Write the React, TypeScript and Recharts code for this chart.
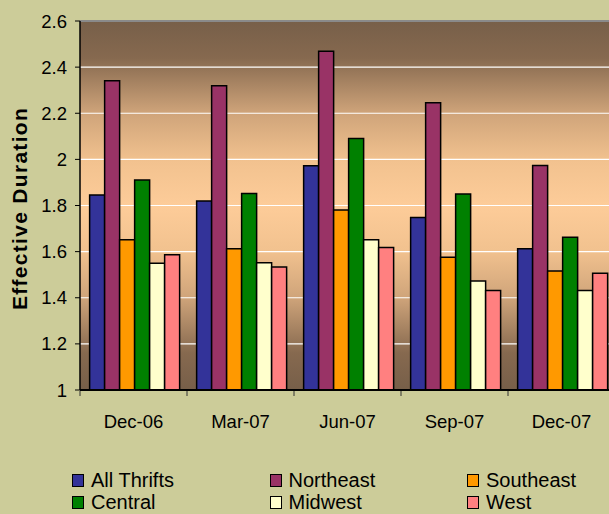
import { Bar, BarChart, CartesianGrid, Legend, ReferenceLine, XAxis, YAxis } from 'recharts';

const quarters = ['Dec-06', 'Mar-07', 'Jun-07', 'Sep-07', 'Dec-07'];
const allThrifts = [1.845, 1.819, 1.972, 1.748, 1.612];
const northeast = [2.341, 2.319, 2.469, 2.246, 1.973];
const southeast = [1.652, 1.612, 1.781, 1.576, 1.516];
const central = [1.911, 1.852, 2.09, 1.85, 1.662];
const midwest = [1.55, 1.552, 1.652, 1.473, 1.431];
const west = [1.586, 1.533, 1.618, 1.431, 1.506];
const yTicks = [1, 1.2, 1.4, 1.6, 1.8, 2, 2.2, 2.4, 2.6];

const series = [
  { key: 'allThrifts', name: 'All Thrifts', color: '#333399', values: allThrifts },
  { key: 'northeast', name: 'Northeast', color: '#993366', values: northeast },
  { key: 'southeast', name: 'Southeast', color: '#ff9900', values: southeast },
  { key: 'central', name: 'Central', color: '#008000', values: central },
  { key: 'midwest', name: 'Midwest', color: '#ffffcc', values: midwest },
  { key: 'west', name: 'West', color: '#ff8080', values: west },
];

const data = quarters.map((q, i) => {
  const row: Record<string, string | number> = { quarter: q };
  series.forEach((s) => {
    row[s.key] = s.values[i];
  });
  return row;
});

function QuarterTick({ x, y, payload }: any) {
  const half = payload.offset || 53.5;
  return (
    <g>
      <line x1={x - half} x2={x - half} y1={y + 1} y2={y + 6} stroke="#333" strokeWidth={1} />
      <text x={x} y={y + 38} textAnchor="middle" fontSize={18.5} fill="#000">
        {payload.value}
      </text>
    </g>
  );
}

function AxisTitle({ viewBox }: any) {
  const cy = viewBox.y + viewBox.height / 2 + 3;
  return (
    <text
      x={27}
      y={cy}
      transform={`rotate(-90, 27, ${cy})`}
      textAnchor="middle"
      fontSize={21}
      fontWeight="bold"
      letterSpacing={1.3}
      fill="#000"
    >
      Effective Duration
    </text>
  );
}

function LegendGrid({ payload }: any) {
  // keep the series order (legend sorts by name otherwise)
  const items = series
    .map((s) => (payload || []).find((p: any) => p.value === s.name))
    .filter(Boolean);
  return (
    <div style={{ display: 'grid', gridTemplateColumns: 'repeat(3, 197.5px)' }}>
      {items.map((p: any) => (
        <div
          key={p.value}
          style={{ display: 'flex', alignItems: 'center', height: 21.5, lineHeight: '21.5px', fontSize: 20, color: '#000' }}
        >
          <span
            style={{ display: 'inline-block', width: 10, height: 11, background: p.color, border: '1.5px solid #000', marginRight: 7 }}
          />
          {p.value}
        </div>
      ))}
    </div>
  );
}

export default function App() {
  return (
    <div
      style={{
        position: 'absolute',
        left: 0,
        top: 0,
        width: 609,
        height: 514,
        overflow: 'hidden',
        background: '#cccc99',
        fontFamily: '"Liberation Sans", Arial, sans-serif',
      }}
    >
      <BarChart
        width={620}
        height={514}
        data={data}
        margin={{ top: 21, right: 5, bottom: 94, left: 0 }}
        barCategoryGap="9%"
        barGap={0}
      >
        <defs>
          <linearGradient id="plotBg" x1="0" y1="0" x2="0" y2="1">
            <stop offset="0%" stopColor="#775f49" />
            <stop offset="10%" stopColor="#86694f" />
            <stop offset="25%" stopColor="#cfa47a" />
            <stop offset="38%" stopColor="#f2c28f" />
            <stop offset="50%" stopColor="#fdcc99" />
            <stop offset="62%" stopColor="#f2c28f" />
            <stop offset="75%" stopColor="#cfa47a" />
            <stop offset="90%" stopColor="#86694f" />
            <stop offset="100%" stopColor="#775f49" />
          </linearGradient>
        </defs>
        <CartesianGrid fill="url(#plotBg)" fillOpacity={1} stroke="#ffffff" strokeWidth={1.2} vertical={false} />
        <ReferenceLine y={2.6} stroke="#8a8a8a" strokeWidth={2} />
        <XAxis
          dataKey="quarter"
          height={30}
          tickLine={false}
          tickSize={0}
          tickMargin={0}
          interval={0}
          axisLine={{ stroke: '#000', strokeWidth: 2 }}
          tick={<QuarterTick />}
        />
        <YAxis
          width={80}
          domain={[1, 2.6]}
          ticks={yTicks}
          interval={0}
          tickSize={5}
          tickMargin={8}
          axisLine={{ stroke: '#000', strokeWidth: 1.5 }}
          tickLine={{ stroke: '#000' }}
          tick={{ fontSize: 18.5, fill: '#000' }}
          label={<AxisTitle />}
        />
        <Legend
          layout="vertical"
          align="center"
          verticalAlign="middle"
          content={<LegendGrid />}
          wrapperStyle={{ left: 72, top: 470, width: 600, height: 44 }}
        />
        {series.map((s) => (
          <Bar
            key={s.key}
            dataKey={s.key}
            name={s.name}
            fill={s.color}
            stroke="#000"
            strokeWidth={1.5}
            isAnimationActive={false}
          />
        ))}
      </BarChart>
    </div>
  );
}
